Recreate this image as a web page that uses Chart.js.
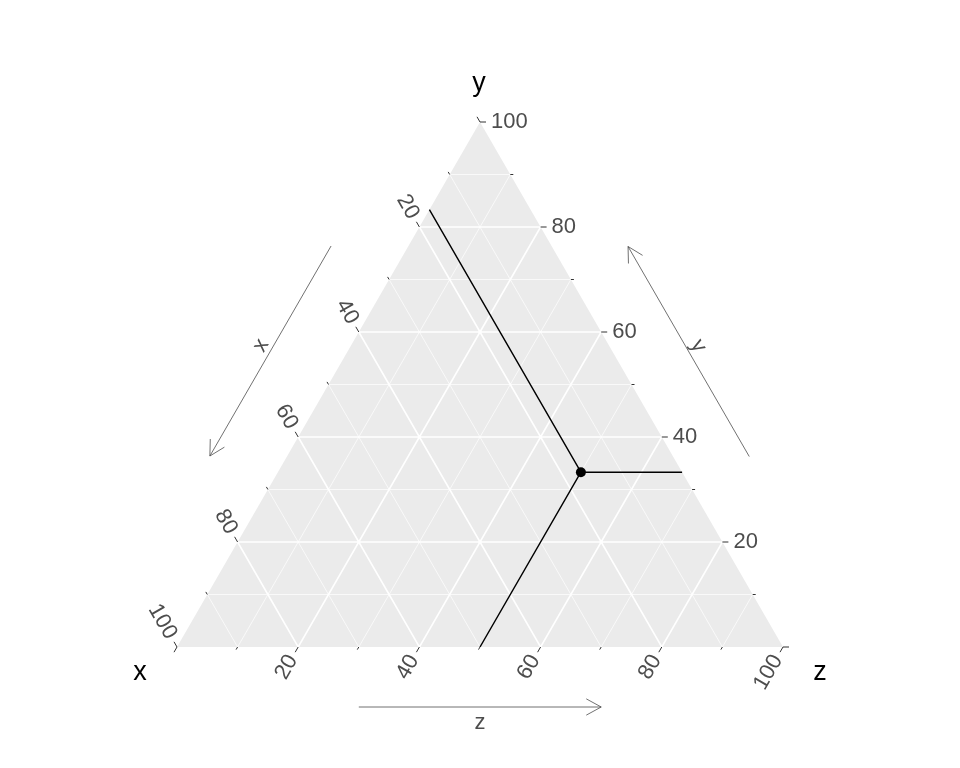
<!DOCTYPE html>
<html>
<head>
<meta charset="utf-8">
<title>Ternary plot</title>
<script src="https://cdn.jsdelivr.net/npm/chart.js@4.4.1/dist/chart.umd.min.js"></script>
<style>
  html, body { margin: 0; padding: 0; background: #fff; }
</style>
</head>
<body>
<canvas id="chart" width="960" height="768"></canvas>
<script>
// vertex order: x (left), y (top), z (right)
const axisNames = ['x', 'y', 'z'];
const majorTicks = [0, 20, 40, 60, 80, 100];
const minorTicks = [10, 30, 50, 70, 90];
const tickLabels = ['', '20', '40', '60', '80', '100'];

// the single point, in percent
const pointX = [16.7];
const pointY = [33.3];
const pointZ = [50];

const H = Math.sqrt(3) / 2;
const FONT = '"Liberation Sans", Arial, sans-serif';

// ternary -> cartesian data space (x in 0..1, y in 0..H)
function toXY(x, y, z) {
    const s = x + y + z;
    return { x: (z + y / 2) / s, y: (y / s) * H };
}

const GAP = { x: null, y: null };

function gridSegments(values) {
    const out = [];
    for (const v of values) {
        if (v <= 0 || v >= 100) continue;
        out.push(toXY(v, 100 - v, 0), toXY(v, 0, 100 - v), GAP);
        out.push(toXY(100 - v, v, 0), toXY(0, v, 100 - v), GAP);
        out.push(toXY(100 - v, 0, v), toXY(0, 100 - v, v), GAP);
    }
    return out;
}

const points = pointX.map((x, i) => toXY(x, pointY[i], pointZ[i]));

// lines from the point to each edge
const guides = [];
pointX.forEach((x, i) => {
    const y = pointY[i], z = pointZ[i];
    const p = points[i];
    guides.push(p, toXY(x, 100 - x, 0), GAP);
    guides.push(p, toXY(0, y, 100 - y), GAP);
    guides.push(p, toXY(100 - z, 0, z), GAP);
});

// per axis: where a value sits on its edge, tick direction (screen), label rotation/align
const axes = [
    { name: 'x', at: v => toXY(v, 100 - v, 0), dir: [-0.5, -H], rot: Math.PI / 3, align: 'right',
      arrow: [toXY(30, 70, 0), toXY(70, 30, 0)], normal: [-H, -0.5], off: 67, textOff: 11, textRot: -Math.PI / 3 },
    { name: 'y', at: v => toXY(0, v, 100 - v), dir: [1, 0], rot: 0, align: 'left',
      arrow: [toXY(0, 30, 70), toXY(0, 70, 30)], normal: [H, -0.5], off: 66, textOff: 11, textRot: Math.PI / 3 },
    { name: 'z', at: v => toXY(100 - v, 0, v), dir: [-0.5, H], rot: -Math.PI / 3, align: 'right',
      arrow: [toXY(70, 0, 30), toXY(30, 0, 70)], normal: [0, 1], off: 60, textOff: 16, textRot: 0 }
];

const vertexLabels = [
    { text: axisNames[0], at: toXY(100, 0, 0), dx: -37, dy: 26 },
    { text: axisNames[1], at: toXY(0, 100, 0), dx: -1, dy: -38 },
    { text: axisNames[2], at: toXY(0, 0, 100), dx: 37, dy: 26 }
];

const ternaryDecor = {
    id: 'ternaryDecor',
    afterDraw(chart) {
        const ctx = chart.ctx;
        const sx = chart.scales.x, sy = chart.scales.y;
        const px = p => [sx.getPixelForValue(p.x), sy.getPixelForValue(p.y)];

        ctx.save();
        // ticks
        ctx.strokeStyle = '#333333';
        ctx.lineWidth = 1;
        for (const ax of axes) {
            const draw = (v, len) => {
                const [bx, by] = px(ax.at(v));
                ctx.beginPath();
                ctx.moveTo(bx, by);
                ctx.lineTo(bx + ax.dir[0] * len, by + ax.dir[1] * len);
                ctx.stroke();
            };
            majorTicks.forEach(v => draw(v, 6));
            minorTicks.forEach(v => draw(v, 3));
        }

        // tick labels
        ctx.fillStyle = '#4D4D4D';
        ctx.font = '22px ' + FONT;
        ctx.textBaseline = 'middle';
        for (const ax of axes) {
            majorTicks.forEach((v, i) => {
                if (!tickLabels[i]) return;
                const [bx, by] = px(ax.at(v));
                const d = 11;
                ctx.save();
                ctx.translate(bx + ax.dir[0] * d, by + ax.dir[1] * d);
                ctx.rotate(ax.rot);
                ctx.textAlign = ax.align;
                ctx.fillText(tickLabels[i], 0, 0);
                ctx.restore();
            });
        }

        // arrows with their labels
        ctx.strokeStyle = '#4D4D4D';
        ctx.lineWidth = 0.8;
        for (const ax of axes) {
            const [ax0, ay0] = px(ax.arrow[0]);
            const [ax1, ay1] = px(ax.arrow[1]);
            const ox = ax.normal[0] * ax.off, oy = ax.normal[1] * ax.off;
            const x0 = ax0 + ox, y0 = ay0 + oy, x1 = ax1 + ox, y1 = ay1 + oy;
            ctx.beginPath();
            ctx.moveTo(x0, y0);
            ctx.lineTo(x1, y1);
            const ang = Math.atan2(y1 - y0, x1 - x0);
            for (const s of [-1, 1]) {
                const a = ang + Math.PI + s * 0.5;
                ctx.moveTo(x1, y1);
                ctx.lineTo(x1 + Math.cos(a) * 17, y1 + Math.sin(a) * 17);
            }
            ctx.stroke();

            const mx = (x0 + x1) / 2 + ax.normal[0] * ax.textOff;
            const my = (y0 + y1) / 2 + ax.normal[1] * ax.textOff;
            ctx.save();
            ctx.translate(mx, my);
            ctx.rotate(ax.textRot);
            ctx.textAlign = 'center';
            ctx.font = '22px ' + FONT;
            ctx.fillText(ax.name, 0, 0);
            ctx.restore();
        }

        // vertex titles
        ctx.fillStyle = '#000000';
        ctx.font = '27px ' + FONT;
        ctx.textAlign = 'center';
        for (const vl of vertexLabels) {
            const [bx, by] = px(vl.at);
            ctx.fillText(vl.text, bx + vl.dx, by + vl.dy);
        }
        ctx.restore();
    }
};

new Chart(document.getElementById('chart'), {
    type: 'scatter',
    data: {
        datasets: [
            {
                label: 'point',
                data: points,
                pointRadius: 5,
                pointBackgroundColor: '#000',
                pointBorderWidth: 0,
                order: 1
            },
            {
                label: 'guides',
                data: guides,
                showLine: true,
                spanGaps: false,
                borderColor: '#000',
                borderWidth: 1.4,
                pointRadius: 0,
                order: 2
            },
            {
                label: 'major grid',
                data: gridSegments(majorTicks),
                showLine: true,
                spanGaps: false,
                borderColor: '#FFFFFF',
                borderWidth: 1.6,
                pointRadius: 0,
                order: 3
            },
            {
                label: 'minor grid',
                data: gridSegments(minorTicks),
                showLine: true,
                spanGaps: false,
                borderColor: '#FFFFFF',
                borderWidth: 0.7,
                pointRadius: 0,
                order: 4
            },
            {
                label: 'panel',
                data: [toXY(100, 0, 0), toXY(0, 100, 0), toXY(0, 0, 100)],
                showLine: true,
                fill: 'origin',
                backgroundColor: '#EBEBEB',
                borderWidth: 0,
                pointRadius: 0,
                order: 5
            }
        ]
    },
    options: {
        responsive: false,
        animation: false,
        layout: { padding: { left: 177, right: 177, top: 122, bottom: 121 } },
        plugins: {
            legend: { display: false },
            tooltip: { enabled: false }
        },
        scales: {
            x: { type: 'linear', min: 0, max: 1, display: false },
            y: { type: 'linear', min: 0, max: H, display: false }
        }
    },
    plugins: [ternaryDecor]
});
</script>
</body>
</html>
